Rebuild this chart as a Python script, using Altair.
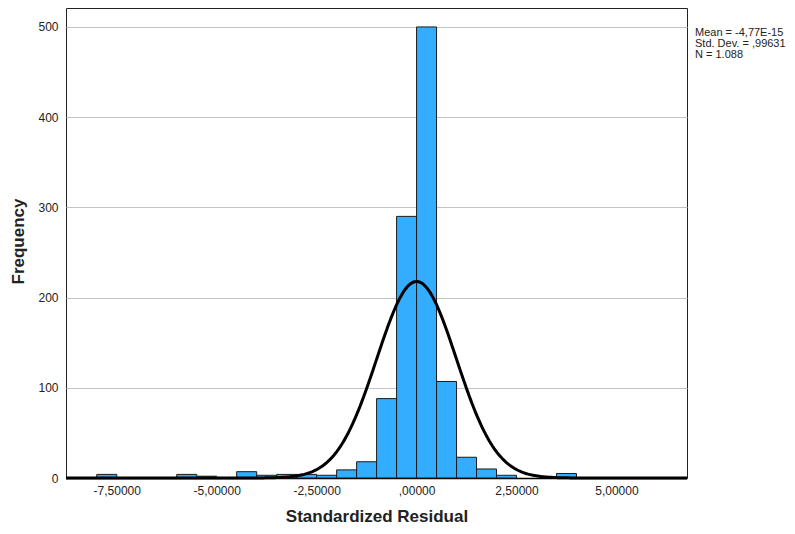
import altair as alt
import pandas as pd
import numpy as np

# ---- data ----
bin_start = [-8.0, -6.0, -5.5, -4.5, -4.0, -3.5, -3.0, -2.5, -2.0, -1.5,
             -1.0, -0.5, 0.0, 0.5, 1.0, 1.5, 2.0, 3.5]
counts = [4, 4, 2, 7, 3, 4, 4, 3, 9, 18,
          88, 290, 500, 107, 23, 10, 3, 5]
BIN_WIDTH = 0.5
MEAN = -4.77e-15
SD = 0.99631
N = 1088
x_ticks = [-7.5, -5.0, -2.5, 0.0, 2.5, 5.0]
x_tick_labels = ["-7,50000", "-5,00000", "-2,50000", ",00000", "2,50000", "5,00000"]
y_ticks = [0, 100, 200, 300, 400, 500]
stats_lines = ["Mean = -4,77E-15", "Std. Dev. = ,99631", "N = 1.088"]
X_DOMAIN = [-8.77, 6.765]
Y_DOMAIN = [0, 521]

bars = pd.DataFrame({
    "start": bin_start,
    "end": [b + BIN_WIDTH for b in bin_start],
    "count": counts,
})

# fitted normal curve from the stated mean / sd / N
xs = np.linspace(X_DOMAIN[0], X_DOMAIN[1], 400)
ys = N * BIN_WIDTH * np.exp(-0.5 * ((xs - MEAN) / SD) ** 2) / (SD * np.sqrt(2 * np.pi))
curve = pd.DataFrame({"x": xs, "y": ys})

label_expr = " : ".join(
    f"datum.value == {v} ? '{l}'" for v, l in zip(x_ticks, x_tick_labels)
) + " : ''"

FONT = "Liberation Sans"

xscale = alt.Scale(domain=X_DOMAIN, nice=False, zero=False)
yscale = alt.Scale(domain=Y_DOMAIN, nice=False)

x_axis = alt.Axis(
    values=x_ticks, labelExpr=label_expr, ticks=False, grid=False,
    domain=True, domainColor="#000000", domainWidth=1.5,
    labelFont=FONT, labelFontSize=12, labelColor="#222222", labelPadding=7,
    title="Standardized Residual", titleFont=FONT, titleFontSize=17,
    titleFontWeight="bold", titleColor="#222222",
    titleY=38, titleBaseline="middle",
)
y_axis = alt.Axis(
    values=y_ticks, ticks=False, grid=True, gridColor="#c4c4c4", gridWidth=1,
    domain=False, labelFont=FONT, labelFontSize=12, labelColor="#222222",
    labelPadding=8,
    title="Frequency", titleFont=FONT, titleFontSize=17, titleFontWeight="bold",
    titleColor="#222222", titleX=-48, titleY=233, titleAngle=-90,
    titleAlign="center", titleBaseline="middle",
)

bar_layer = alt.Chart(bars).mark_bar(
    color="#33adff", stroke="#1a1a1a", strokeWidth=1
).encode(
    x=alt.X("start:Q", scale=xscale, axis=x_axis),
    x2="end:Q",
    y=alt.Y("count:Q", scale=yscale, axis=y_axis),
    y2=alt.datum(0),
)

curve_layer = alt.Chart(curve).mark_line(
    color="#000000", strokeWidth=3
).encode(
    x=alt.X("x:Q", scale=xscale),
    y=alt.Y("y:Q", scale=yscale),
)

text_layer = alt.Chart(pd.DataFrame({"k": [0]})).mark_text(
    text=stats_lines, align="left", baseline="middle", font=FONT,
    fontSize=11, lineHeight=11, color="#222222"
).encode(
    x=alt.value(629),
    y=alt.value(25),
)

chart = alt.layer(bar_layer, curve_layer, text_layer).properties(
    width=621, height=470,
    autosize=alt.AutoSizeParams(type="none"),
    padding={"left": 58, "top": 0, "right": 99, "bottom": 48},
).configure_view(stroke="#222222", strokeWidth=1)

chart.save("out.html", embed_options={"renderer": "svg", "actions": False})
